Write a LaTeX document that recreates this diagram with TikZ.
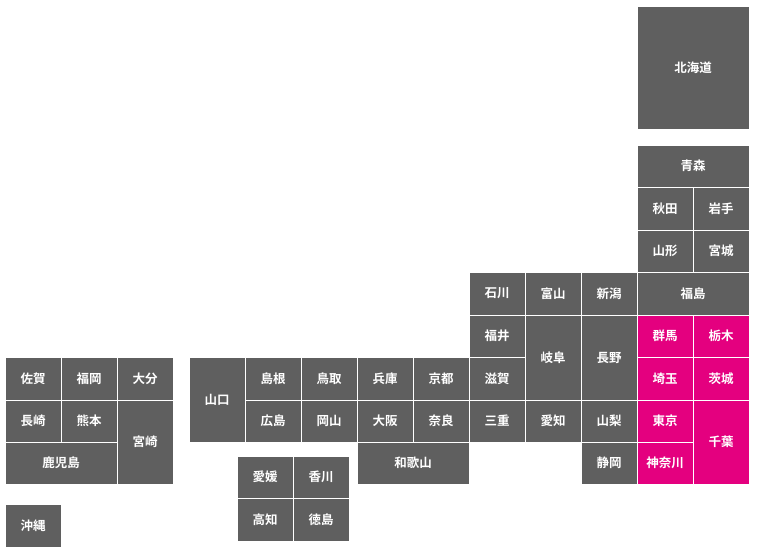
\documentclass[tikz,border=0pt]{standalone}
\usepackage{fontspec}
\newfontfamily\cjk{Noto Sans CJK JP}[BoldFont={* Bold}]
\definecolor{pg}{HTML}{5F5F5F}
\definecolor{pm}{HTML}{E4007F}
\newcommand{\pf}[7]{%
 \node[pbox,fill=#7,minimum width={(#3)-(#1)}, minimum height={(#4)-(#2)}] (#6) at ({((#1)+(#3))/2},{-((#2)+(#4))/2}) {#5};}
\begin{document}
\begin{tikzpicture}[x=1pt,y=1pt,
 pbox/.style={draw=white,line width=0.8pt,inner sep=0pt,text=white,font=\cjk\bfseries\fontsize{12.5}{14}\selectfont}]
\useasboundingbox (0,0) rectangle (775,-552);
\pf{637}{6}{749}{129}{北海道}{hok}{pg}
\pf{637}{145}{749}{187}{青森}{aom}{pg}
\pf{637}{187}{693}{230}{秋田}{aki}{pg}
\pf{693}{187}{749}{230}{岩手}{iwa}{pg}
\pf{637}{230}{693}{272}{山形}{yamg}{pg}
\pf{693}{230}{749}{272}{宮城}{miya}{pg}
\pf{469}{272}{525}{315}{石川}{ishi}{pg}
\pf{525}{272}{581}{315}{富山}{toya}{pg}
\pf{581}{272}{637}{315}{新潟}{niig}{pg}
\pf{637}{272}{749}{315}{福島}{fuks}{pg}
\pf{469}{315}{525}{357}{福井}{fuki}{pg}
\pf{525}{315}{581}{400}{岐阜}{gifu}{pg}
\pf{581}{315}{637}{400}{長野}{nagn}{pg}
\pf{637}{315}{693}{357}{群馬}{gunm}{pm}
\pf{693}{315}{749}{357}{栃木}{toch}{pm}
\pf{469}{357}{525}{400}{滋賀}{shig}{pg}
\pf{637}{357}{693}{400}{埼玉}{sait}{pm}
\pf{693}{357}{749}{400}{茨城}{ibar}{pm}
\pf{5}{357}{61}{400}{佐賀}{saga}{pg}
\pf{61}{357}{117}{400}{福岡}{fuko}{pg}
\pf{117}{357}{173}{400}{大分}{oita}{pg}
\pf{189}{357}{245}{442}{山口}{yamc}{pg}
\pf{245}{357}{301}{400}{島根}{shim}{pg}
\pf{301}{357}{357}{400}{鳥取}{tott}{pg}
\pf{357}{357}{413}{400}{兵庫}{hyog}{pg}
\pf{413}{357}{469}{400}{京都}{kyot}{pg}
\pf{5}{400}{61}{442}{長崎}{naga}{pg}
\pf{61}{400}{117}{442}{熊本}{kuma}{pg}
\pf{117}{400}{173}{484}{宮崎}{miyz}{pg}
\pf{245}{400}{301}{442}{広島}{hiro}{pg}
\pf{301}{400}{357}{442}{岡山}{okay}{pg}
\pf{357}{400}{413}{442}{大阪}{osak}{pg}
\pf{413}{400}{469}{442}{奈良}{nara}{pg}
\pf{469}{400}{525}{442}{三重}{mie}{pg}
\pf{525}{400}{581}{442}{愛知}{aich}{pg}
\pf{581}{400}{637}{442}{山梨}{yamn}{pg}
\pf{637}{400}{693}{442}{東京}{toky}{pm}
\pf{693}{400}{749}{484}{千葉}{chib}{pm}
\pf{5}{442}{117}{484}{鹿児島}{kago}{pg}
\pf{357}{442}{469}{484}{和歌山}{waka}{pg}
\pf{581}{442}{637}{484}{静岡}{shiz}{pg}
\pf{637}{442}{693}{484}{神奈川}{kana}{pm}
\pf{237}{456}{293}{498}{愛媛}{ehim}{pg}
\pf{293}{456}{349}{498}{香川}{kaga}{pg}
\pf{237}{498}{293}{541}{高知}{koch}{pg}
\pf{293}{498}{349}{541}{徳島}{toku}{pg}
\pf{5}{504}{61}{547}{沖縄}{okin}{pg}
\end{tikzpicture}
\end{document}
